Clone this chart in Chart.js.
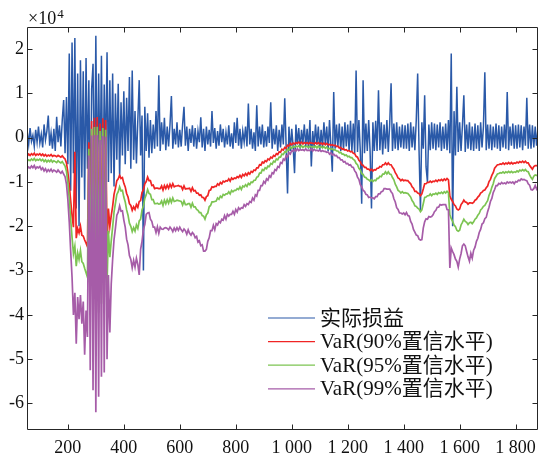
<!DOCTYPE html>
<html>
<head>
<meta charset="utf-8">
<script src="https://cdn.jsdelivr.net/npm/chart.js@4.4.0/dist/chart.umd.min.js"></script>
<style>
    html, body { margin: 0; padding: 0; background: #fff; }
</style>
</head>
<body>
<canvas id="myChart" width="549" height="459"></canvas>
<script>
// one value every 5 days, in units of 10^4
var firstDay = 55, dayStep = 5;
var seriesNames = ["实际损益", "VaR(90%置信水平)", "VaR(95%置信水平)", "VaR(99%置信水平)"];
var seriesColors = ['#2a59a8', '#f02424', '#7cc452', '#a65ca8'];
var xTicks = [200, 400, 600, 800, 1000, 1200, 1400, 1600, 1800];
var xTickLabels = ["200", "400", "600", "800", "1 000", "1 200", "1 400", "1 600", "1 800"];
var yTicks = [-6, -5, -4, -3, -2, -1, 0, 1, 2];

var actualPL = [
    0.12, -0.15, 0.22, -0.08, 0.05, -0.20, 0.18, -0.10, 0.25, -0.12,
    0.08, -0.22, 0.30, -0.05, 0.15, 0.50, -0.18, 0.10, -0.25, 0.20,
    -0.30, 0.47, -0.10, 0.28, -0.20, 0.40, 0.85, -0.35, 0.92, -0.60,
    1.90, -1.20, 2.15, -0.80, 2.25, -1.60, 1.45, -2.00, 1.75, -0.90,
    1.50, -1.40, 1.80, -0.70, 1.30, -1.80, 1.10, 1.67, -1.50, 2.30,
    -1.20, 1.45, -0.90, 1.85, -1.40, 1.20, -0.60, 1.93, -1.00, 1.30,
    -0.80, 1.45, -1.10, 1.00, -0.50, 1.22, -0.90, 0.80, -0.40, 1.05,
    -0.60, 0.90, -0.30, 1.37, -0.70, 1.52, -0.50, 0.60, -0.58, 0.40,
    1.30, -0.40, 0.50, -3.00, 0.70, -0.30, 0.55, -0.45, 0.40, -0.35,
    0.30, -0.25, 0.60, -0.20, 1.41, -0.30, 0.35, -0.15, 0.45, -0.28,
    0.25, -0.20, 0.30, 0.94, -0.25, 0.20, -0.15, 0.35, -0.22, 0.18,
    -0.20, 0.30, 0.70, -0.18, 0.25, -0.30, 0.20, -0.12, 0.28, -0.20,
    0.22, -0.25, 0.15, -0.10, 0.46, -0.22, 0.20, -0.30, 0.25, -0.15,
    0.18, -0.20, 0.60, -0.12, 0.22, -0.25, 0.15, -0.18, 0.30, -0.10,
    0.20, -0.22, 0.12, -0.15, 0.28, -0.20, 0.10, -0.25, 0.35, -0.12,
    0.45, -0.18, 0.20, -0.25, 0.15, -0.10, 0.25, -0.20, 0.77, -0.15,
    0.20, -0.25, 0.12, -0.30, 0.73, -0.20, 0.25, -0.15, 0.30, -0.22,
    0.15, -0.20, 0.25, -0.12, 0.80, -0.25, 0.20, -0.15, 0.28, -0.30,
    0.18, -0.22, 0.30, -0.15, 0.89, -0.20, -1.26, 0.25, -0.30, 0.20,
    -0.20, -0.80, 0.30, -0.15, 0.22, -0.25, 0.18, -0.12, 0.30, -0.20,
    0.20, -0.25, 0.40, -0.65, 0.15, -0.20, 0.30, -0.15, 0.25, -0.30,
    0.18, -0.22, 0.35, -0.15, 0.25, -0.30, 0.40, -0.20, -0.77, 1.03,
    -0.25, 0.30, -0.20, 0.32, -0.30, 0.25, -0.28, 0.35, -0.20, 0.30,
    -0.30, 0.38, -0.30, 0.32, -0.35, 1.52, -0.32, 0.40, -0.30, -1.49,
    1.30, -0.35, 0.32, -0.30, 0.40, -0.30, -1.60, 0.35, -0.30, 0.38,
    -0.30, 1.07, -0.28, 0.35, -0.38, 0.30, -0.25, 0.40, -0.32, 0.30,
    1.23, -0.30, 0.32, -0.25, 0.35, -0.28, 0.25, -0.22, 0.30, -0.25,
    0.28, -0.25, 0.32, -0.30, 0.35, -0.22, 0.25, -0.28, 0.40, 1.45,
    -0.30, -1.64, 0.35, -0.25, 0.96, -0.66, -1.00, 0.30, -0.28, 0.35,
    -0.25, 0.32, -0.28, 0.30, -0.22, 0.35, -0.30, 0.25, -0.25, 0.32,
    -0.28, 0.40, -0.35, 1.90, -2.00, 0.60, -0.40, 1.15, -0.32, 0.35,
    -0.30, 0.28, 0.96, -0.32, 0.30, -0.25, 0.35, -0.28, 0.25, -0.30,
    0.32, -0.25, 0.28, -0.30, 0.35, -0.22, 0.25, 1.48, -0.28, 0.30,
    -0.25, 0.30, -0.28, 0.25, -0.22, 0.32, -0.25, 0.28, -0.30, 0.25,
    -0.22, 0.30, -0.25, 1.03, -0.28, 0.25, -0.18, 0.32, -0.25, 0.28,
    -0.25, 0.30, -0.22, 0.28, -0.28, 0.25, -0.18, 0.90, -0.25, 0.30,
    -0.25, 0.28, -0.22, 0.25, -0.18, 0.22
];

var var90 = [
    -0.41, -0.37, -0.40, -0.36, -0.39, -0.35, -0.40, -0.37, -0.39, -0.36,
    -0.40, -0.37, -0.41, -0.38, -0.42, -0.39, -0.41, -0.38, -0.42, -0.40,
    -0.41, -0.43, -0.40, -0.42, -0.44, -0.41, -0.45, -0.48, -0.57, -0.78,
    -1.06, -1.42, -1.76, -2.02, -0.32, -2.27, -2.05, -2.15, -2.00, -2.20,
    -2.22, -2.31, -2.38, -2.46, -0.10, -2.62, 0.38, -2.88, 0.45, -3.05,
    0.47, -2.95, 0.32, -2.80, 0.44, -2.70, 0.40, -2.40, -1.60, -2.00,
    -1.76, -1.55, -1.28, -1.14, -0.97, -0.93, -0.85, -0.92, -0.90, -1.03,
    -1.11, -1.26, -1.34, -1.49, -1.53, -1.64, -1.56, -1.62, -1.51, -1.57,
    -1.44, -1.42, -1.24, -1.18, -1.04, -0.99, -0.89, -0.97, -0.97, -1.08,
    -1.07, -1.15, -1.14, -1.14, -1.15, -1.15, -1.09, -1.18, -1.08, -1.15,
    -1.07, -1.14, -1.05, -1.12, -1.04, -1.11, -1.09, -1.09, -1.08, -1.10,
    -1.10, -1.17, -1.09, -1.16, -1.15, -1.15, -1.14, -1.21, -1.13, -1.20,
    -1.19, -1.25, -1.25, -1.30, -1.29, -1.35, -1.35, -1.41, -1.33, -1.31,
    -1.19, -1.18, -1.11, -1.12, -1.10, -1.10, -1.04, -1.07, -1.01, -1.04,
    -0.98, -1.00, -0.97, -0.98, -0.93, -0.98, -0.91, -0.94, -0.91, -0.92,
    -0.88, -0.90, -0.85, -0.90, -0.83, -0.86, -0.81, -0.85, -0.79, -0.82,
    -0.76, -0.78, -0.73, -0.74, -0.68, -0.68, -0.61, -0.62, -0.55, -0.57,
    -0.52, -0.54, -0.48, -0.50, -0.44, -0.46, -0.40, -0.42, -0.36, -0.38,
    -0.32, -0.33, -0.26, -0.28, -0.22, -0.24, -0.17, -0.19, -0.13, -0.16,
    -0.12, -0.14, -0.11, -0.13, -0.10, -0.13, -0.10, -0.14, -0.11, -0.13,
    -0.11, -0.14, -0.11, -0.12, -0.12, -0.14, -0.11, -0.14, -0.11, -0.14,
    -0.12, -0.15, -0.12, -0.16, -0.13, -0.16, -0.15, -0.17, -0.16, -0.18,
    -0.17, -0.20, -0.19, -0.23, -0.22, -0.26, -0.25, -0.28, -0.27, -0.30,
    -0.29, -0.32, -0.31, -0.35, -0.36, -0.42, -0.44, -0.51, -0.54, -0.61,
    -0.62, -0.67, -0.67, -0.71, -0.71, -0.74, -0.71, -0.75, -0.72, -0.73,
    -0.69, -0.69, -0.65, -0.66, -0.61, -0.61, -0.57, -0.61, -0.57, -0.61,
    -0.61, -0.67, -0.71, -0.79, -0.84, -0.91, -0.93, -0.97, -0.94, -0.97,
    -0.96, -0.97, -0.97, -1.01, -1.04, -1.11, -1.14, -1.21, -1.21, -1.25,
    -1.26, -1.31, -1.27, -1.16, -1.04, -1.04, -1.01, -1.01, -0.98, -1.01,
    -0.98, -0.99, -0.96, -0.99, -0.95, -0.97, -0.94, -0.97, -0.93, -0.96,
    -0.92, -0.95, -1.32, -1.39, -1.44, -1.51, -1.54, -1.61, -1.63, -1.61,
    -1.51, -1.47, -1.41, -1.45, -1.46, -1.50, -1.47, -1.47, -1.48, -1.46,
    -1.41, -1.39, -1.34, -1.31, -1.25, -1.23, -1.19, -1.18, -1.13, -1.09,
    -0.99, -0.94, -0.85, -0.79, -0.69, -0.65, -0.61, -0.61, -0.59, -0.60,
    -0.57, -0.60, -0.57, -0.59, -0.56, -0.59, -0.56, -0.59, -0.57, -0.58,
    -0.55, -0.57, -0.54, -0.56, -0.53, -0.56, -0.53, -0.57, -0.57, -0.63,
    -0.67, -0.71, -0.65, -0.63, -0.63, -0.64
];

var var95 = [
    -0.53, -0.50, -0.52, -0.48, -0.51, -0.47, -0.52, -0.49, -0.51, -0.48,
    -0.52, -0.49, -0.54, -0.50, -0.55, -0.51, -0.54, -0.50, -0.55, -0.52,
    -0.54, -0.56, -0.52, -0.55, -0.57, -0.54, -0.59, -0.64, -0.76, -1.02,
    -1.38, -1.84, -2.25, -2.62, -2.45, -2.90, -2.60, -2.75, -2.55, -2.80,
    -2.84, -2.95, -3.05, -3.15, -0.25, -3.45, 0.20, -3.80, 0.24, -4.05,
    0.25, -3.95, 0.15, -3.75, 0.22, -3.60, 0.18, -3.30, -2.10, -2.70,
    -2.33, -2.02, -1.68, -1.48, -1.28, -1.22, -1.11, -1.20, -1.19, -1.34,
    -1.45, -1.63, -1.75, -1.93, -2.00, -2.12, -2.03, -2.11, -1.97, -2.05,
    -1.88, -1.84, -1.63, -1.54, -1.37, -1.29, -1.17, -1.26, -1.28, -1.40,
    -1.40, -1.49, -1.49, -1.48, -1.50, -1.49, -1.43, -1.53, -1.41, -1.49,
    -1.40, -1.48, -1.38, -1.46, -1.36, -1.44, -1.43, -1.41, -1.42, -1.43,
    -1.44, -1.52, -1.43, -1.51, -1.51, -1.49, -1.49, -1.57, -1.48, -1.56,
    -1.56, -1.62, -1.64, -1.69, -1.69, -1.76, -1.77, -1.84, -1.74, -1.70,
    -1.56, -1.53, -1.45, -1.45, -1.44, -1.43, -1.36, -1.39, -1.32, -1.35,
    -1.28, -1.30, -1.27, -1.27, -1.22, -1.27, -1.19, -1.22, -1.19, -1.19,
    -1.15, -1.17, -1.11, -1.17, -1.09, -1.11, -1.06, -1.10, -1.03, -1.06,
    -1.00, -1.01, -0.96, -0.96, -0.89, -0.88, -0.80, -0.80, -0.72, -0.74,
    -0.68, -0.70, -0.64, -0.65, -0.58, -0.60, -0.53, -0.55, -0.48, -0.50,
    -0.44, -0.44, -0.37, -0.38, -0.32, -0.33, -0.26, -0.28, -0.21, -0.24,
    -0.20, -0.22, -0.19, -0.21, -0.18, -0.22, -0.18, -0.22, -0.19, -0.21,
    -0.19, -0.22, -0.19, -0.21, -0.20, -0.22, -0.19, -0.23, -0.19, -0.22,
    -0.20, -0.23, -0.20, -0.24, -0.21, -0.25, -0.24, -0.26, -0.25, -0.28,
    -0.27, -0.30, -0.30, -0.34, -0.33, -0.37, -0.37, -0.40, -0.39, -0.43,
    -0.42, -0.45, -0.45, -0.49, -0.51, -0.58, -0.61, -0.69, -0.73, -0.81,
    -0.83, -0.89, -0.90, -0.94, -0.95, -0.98, -0.95, -0.99, -0.96, -0.97,
    -0.92, -0.92, -0.87, -0.88, -0.82, -0.82, -0.77, -0.82, -0.77, -0.82,
    -0.83, -0.90, -0.95, -1.05, -1.11, -1.19, -1.21, -1.25, -1.22, -1.25,
    -1.24, -1.25, -1.26, -1.30, -1.34, -1.42, -1.46, -1.54, -1.55, -1.59,
    -1.61, -1.67, -1.63, -1.49, -1.35, -1.34, -1.31, -1.31, -1.27, -1.31,
    -1.27, -1.28, -1.25, -1.28, -1.24, -1.26, -1.23, -1.26, -1.22, -1.25,
    -1.21, -1.24, -1.74, -1.83, -1.89, -1.97, -2.01, -2.09, -2.11, -2.09,
    -1.97, -1.91, -1.84, -1.89, -1.91, -1.96, -1.92, -1.91, -1.94, -1.90,
    -1.84, -1.81, -1.75, -1.71, -1.63, -1.60, -1.55, -1.53, -1.47, -1.42,
    -1.30, -1.23, -1.12, -1.04, -0.92, -0.87, -0.82, -0.81, -0.79, -0.80,
    -0.77, -0.80, -0.77, -0.79, -0.76, -0.79, -0.76, -0.79, -0.77, -0.78,
    -0.75, -0.77, -0.73, -0.75, -0.72, -0.75, -0.72, -0.76, -0.77, -0.84,
    -0.90, -0.94, -0.87, -0.84, -0.85, -0.86
];

var var99 = [
    -0.70, -0.66, -0.69, -0.64, -0.68, -0.63, -0.70, -0.66, -0.68, -0.65,
    -0.72, -0.68, -0.75, -0.70, -0.77, -0.72, -0.76, -0.71, -0.77, -0.73,
    -0.75, -0.78, -0.73, -0.77, -0.80, -0.76, -0.82, -0.88, -1.05, -1.40,
    -1.90, -2.55, -3.15, -4.00, -3.50, -4.65, -3.60, -4.10, -3.55, -4.20,
    -3.70, -4.90, -3.90, -4.50, -0.40, -5.25, 0.05, -5.70, 0.06, -6.20,
    0.06, -5.85, -0.05, -5.40, 0.04, -5.30, 0.02, -5.00, -3.10, -4.40,
    -3.30, -2.75, -2.30, -2.04, -1.75, -1.68, -1.54, -1.66, -1.65, -1.86,
    -2.02, -2.29, -2.42, -2.66, -2.75, -2.94, -2.77, -2.92, -2.72, -2.86,
    -3.10, -2.52, -2.34, -2.07, -1.96, -1.73, -1.70, -1.69, -1.84, -1.89,
    -2.02, -2.02, -2.14, -2.01, -2.16, -2.02, -2.06, -2.07, -2.04, -2.03,
    -2.05, -2.08, -2.02, -2.06, -2.12, -2.04, -2.10, -2.03, -2.09, -2.02,
    -2.08, -2.12, -2.06, -2.10, -2.18, -2.08, -2.16, -2.20, -2.14, -2.18,
    -2.26, -2.23, -2.36, -2.33, -2.44, -2.42, -2.56, -2.56, -2.52, -2.34,
    -2.26, -2.10, -2.10, -1.98, -2.08, -1.94, -1.97, -1.89, -1.92, -1.84,
    -1.86, -1.76, -1.84, -1.73, -1.77, -1.73, -1.73, -1.66, -1.73, -1.62,
    -1.68, -1.58, -1.62, -1.58, -1.59, -1.51, -1.55, -1.49, -1.51, -1.44,
    -1.46, -1.36, -1.41, -1.29, -1.32, -1.19, -1.19, -1.08, -1.08, -0.99,
    -1.03, -0.93, -0.96, -0.86, -0.89, -0.79, -0.81, -0.72, -0.74, -0.65,
    -0.67, -0.56, -0.58, -0.48, -0.51, -0.41, -0.43, -0.34, -0.37, -0.29,
    -0.31, -0.26, -0.30, -0.25, -0.29, -0.27, -0.28, -0.27, -0.29, -0.25,
    -0.29, -0.28, -0.29, -0.25, -0.30, -0.26, -0.29, -0.28, -0.30, -0.28,
    -0.31, -0.29, -0.31, -0.31, -0.33, -0.32, -0.37, -0.34, -0.39, -0.37,
    -0.41, -0.40, -0.45, -0.45, -0.50, -0.50, -0.55, -0.54, -0.59, -0.58,
    -0.62, -0.61, -0.66, -0.67, -0.75, -0.79, -0.89, -0.94, -1.06, -1.11,
    -1.19, -1.21, -1.28, -1.29, -1.35, -1.34, -1.36, -1.36, -1.38, -1.33,
    -1.33, -1.27, -1.27, -1.22, -1.21, -1.15, -1.15, -1.16, -1.16, -1.16,
    -1.22, -1.26, -1.38, -1.45, -1.58, -1.62, -1.70, -1.70, -1.72, -1.70,
    -1.74, -1.69, -1.76, -1.77, -1.89, -1.95, -2.07, -2.13, -2.20, -2.21,
    -2.29, -2.31, -2.30, -2.04, -1.90, -1.83, -1.84, -1.78, -1.79, -1.78,
    -1.74, -1.67, -1.64, -1.57, -1.57, -1.51, -1.52, -1.51, -1.51, -1.51,
    -1.62, -1.63, -2.94, -2.49, -2.57, -2.64, -2.74, -2.79, -2.92, -2.74,
    -2.62, -2.44, -2.40, -2.44, -2.57, -2.69, -2.79, -2.61, -2.72, -2.54,
    -2.47, -2.34, -2.27, -2.14, -2.07, -1.95, -1.92, -1.83, -1.80, -1.67,
    -1.57, -1.44, -1.37, -1.24, -1.17, -1.08, -1.08, -1.03, -1.05, -1.01,
    -1.04, -1.02, -1.04, -1.00, -1.02, -1.00, -1.02, -1.00, -1.04, -0.99,
    -1.00, -0.96, -0.97, -0.93, -0.95, -0.94, -0.96, -0.97, -1.04, -1.07,
    -1.17, -1.18, -1.15, -1.08, -1.16, -1.11
];

function toPoints(values) {
    return values.map(function (v, i) { return {x: firstDay + i * dayStep, y: v}; });
}

var allSeries = [actualPL, var90, var95, var99];
var lineWidths = [1.5, 1.7, 1.7, 1.7];
var datasets = allSeries.map(function (values, k) {
    return {
        label: seriesNames[k],
        data: toPoints(values),
        borderColor: seriesColors[k],
        borderWidth: lineWidths[k],
        pointRadius: 0,
        tension: 0,
        clip: 0,
        order: 3 - k   // MATLAB draws the last series on top
    };
});

var serif = '"Liberation Serif", "Noto Sans CJK SC", serif';

// box, inward ticks, legend and the x10^4 factor, as MATLAB draws them
var framePlugin = {
    id: 'frame',
    afterDraw: function (chart) {
        var c = chart.ctx, a = chart.chartArea, sx = chart.scales.x, sy = chart.scales.y;
        var L = Math.round(a.left) + 0.5, R = Math.round(a.right) - 0.5;
        var T = Math.round(a.top) + 0.5, B = Math.round(a.bottom) - 0.5;
        c.save();
        c.strokeStyle = '#262626';
        c.lineWidth = 1;
        c.beginPath();
        c.rect(L, T, R - L, B - T);
        xTicks.forEach(function (v) {
            var p = Math.round(sx.getPixelForValue(v)) + 0.5;
            c.moveTo(p, B); c.lineTo(p, B - 5);
            c.moveTo(p, T); c.lineTo(p, T + 5);
        });
        yTicks.forEach(function (v) {
            var p = Math.round(sy.getPixelForValue(v)) + 0.5;
            c.moveTo(L, p); c.lineTo(L + 5, p);
            c.moveTo(R, p); c.lineTo(R - 5, p);
        });
        c.stroke();

        c.fillStyle = '#111';
        c.textBaseline = 'alphabetic';
        c.font = '18px ' + serif;
        c.fillText('\u00d710', 28, 24);
        var w = c.measureText('\u00d710').width;
        c.font = '13px ' + serif;
        c.fillText('4', 28 + w + 1, 18);

        c.font = '21px ' + serif;
        c.textBaseline = 'middle';
        seriesNames.forEach(function (name, k) {
            var y = 318 + k * 23.6;
            c.strokeStyle = seriesColors[k];
            c.lineWidth = 1.2;
            c.beginPath();
            c.moveTo(268, y); c.lineTo(315, y);
            c.stroke();
            c.fillText(name, 320, y + 1);
        });
        c.restore();
    }
};

var ctx = document.getElementById("myChart").getContext('2d');
var myChart = new Chart(ctx, {
    type: 'line',
    data: { datasets: datasets },
    options: {
        responsive: false,
        animation: false,
        devicePixelRatio: 1,
        layout: { padding: { top: 27, right: 11, left: 0, bottom: 0 } },
        plugins: { legend: { display: false }, tooltip: { enabled: false } },
        scales: {
            x: {
                type: 'linear',
                min: 54,
                max: 1880,
                grid: { display: false, drawTicks: false },
                border: { display: false },
                afterBuildTicks: function (s) { s.ticks = xTicks.map(function (v) { return {value: v}; }); },
                afterFit: function (s) { s.height = 29; },
                ticks: {
                    autoSkip: false,
                    maxRotation: 0,
                    padding: 7,
                    color: '#111',
                    font: { family: serif, size: 18 },
                    callback: function (v) { return xTickLabels[xTicks.indexOf(v)]; }
                }
            },
            y: {
                type: 'linear',
                min: -6.6,
                max: 2.5,
                grid: { display: false, drawTicks: false },
                border: { display: false },
                afterBuildTicks: function (s) { s.ticks = yTicks.map(function (v) { return {value: v}; }); },
                afterFit: function (s) { s.width = 27; },
                ticks: {
                    padding: 3,
                    color: '#111',
                    font: { family: serif, size: 18 },
                    callback: function (v) { return String(v); }
                }
            }
        }
    },
    plugins: [framePlugin]
});
</script>
</body>
</html>
